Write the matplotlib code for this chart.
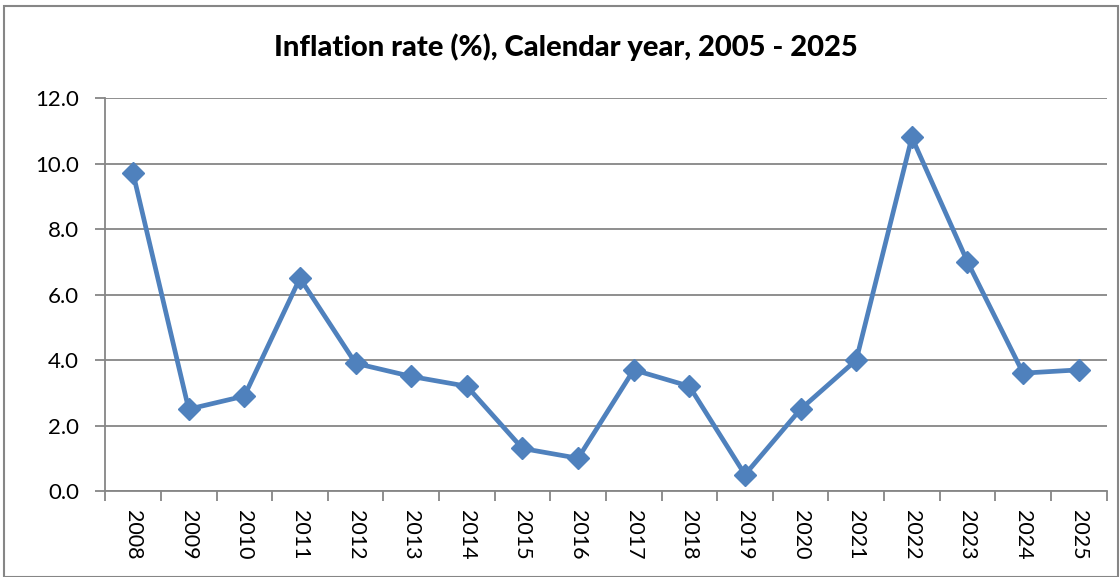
import numpy as np
import matplotlib.pyplot as plt
from matplotlib.patches import Rectangle

years = ['2008', '2009', '2010', '2011', '2012', '2013', '2014', '2015', '2016',
         '2017', '2018', '2019', '2020', '2021', '2022', '2023', '2024', '2025']
inflation = [9.7, 2.5, 2.9, 6.5, 3.9, 3.5, 3.2, 1.3, 1.0,
             3.7, 3.2, 0.5, 2.5, 4.0, 10.8, 7.0, 3.6, 3.7]
yticks = [0, 2, 4, 6, 8, 10, 12]

plt.rcParams['font.family'] = ['Lato', 'DejaVu Sans']
grey = '#868686'
blue = '#4F81BD'

fig = plt.figure(figsize=(11.2, 5.77), dpi=100)
ax = fig.add_axes([0.094, 0.149, 0.894, 0.681])

x = np.arange(len(years))
ax.plot(x, inflation, color=blue, lw=3.4, marker='D', markersize=11, zorder=3)

ax.set_xlim(-0.5, len(years) - 0.5)
ax.set_ylim(0, 12)
ax.set_yticks(yticks)
ax.set_yticklabels([f'{v:.1f}' for v in yticks], fontsize=16)
ax.set_xticks(x)
ax.set_xticklabels(years, rotation=270, fontsize=15.5)
ax.set_xticks(np.arange(len(years) + 1) - 0.5, minor=True)
ax.tick_params(axis='x', which='major', length=0, pad=14)
ax.tick_params(axis='x', which='minor', length=7, width=1.3, color=grey)
ax.tick_params(axis='y', length=7, width=1.3, color=grey, pad=12)

ax.grid(axis='y', color=grey, lw=1.3)
ax.set_axisbelow(True)
for side in ['top', 'right']:
    ax.spines[side].set_visible(False)
for side in ['left', 'bottom']:
    ax.spines[side].set_color(grey)
    ax.spines[side].set_linewidth(1.3)

fig.text(0.505, 0.918, 'Inflation rate (%), Calendar year, 2005 - 2025',
         ha='center', va='center', fontsize=21, fontweight='black')

fig.patches.append(Rectangle((0.004, 0.0), 0.994, 0.99, transform=fig.transFigure,
                             fill=False, edgecolor=grey, lw=1.5))

fig.savefig('out.png', dpi=100)
